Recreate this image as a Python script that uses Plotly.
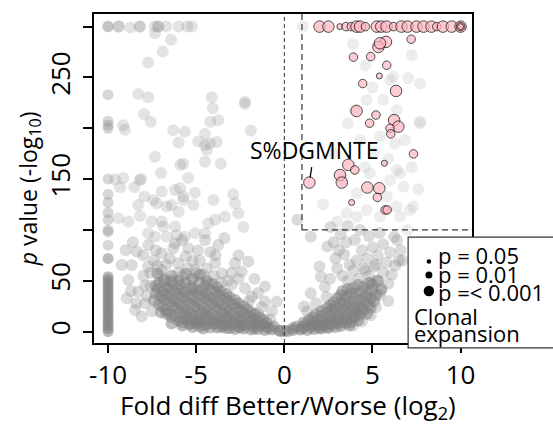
import plotly.graph_objects as go

# ---------------- data ----------------
# dense cloud, left of zero (fold diff, -log10 p)
left_cloud_x = [-0.2, 0.0, -0.3, -0.7, -1.1, -1.5, -1.9, -2.3, -2.8, -3.3, -3.8, -4.6, -5.8, -6.4,
                -0.6, -1.0, -1.4, -1.8, -2.2, -2.6, -3.0, -3.5, -4.0, -4.5, -5.0, -5.4,
                -1.0, -1.5, -2.0, -2.5, -3.0, -3.5, -4.0, -4.5, -5.0, -5.5, -6.0,
                -1.4, -2.0, -2.6, -3.2, -3.8, -4.4, -5.0, -5.6, -6.2, -6.7,
                -1.9, -2.5, -3.1, -3.7, -4.3, -4.9, -5.5, -6.1, -6.7,
                -2.3, -2.9, -3.5, -4.1, -4.7, -5.3, -5.9, -6.5, -7.1,
                -2.8, -3.4, -4.0, -4.6, -5.2, -5.8, -6.4, -7.0,
                -3.3, -3.9, -4.5, -5.1, -5.7, -6.3, -6.9,
                -3.8, -4.5, -5.2, -5.9, -6.6, -7.3,
                -4.4, -5.2, -6.0, -6.8,
                -0.9, -1.7, -2.5, -3.1, -3.6, -4.2, -4.8, -5.2,
                -1.2, -1.6, -2.4, -2.8, -3.3, -3.8, -4.3, -4.8, -5.3, -5.8,
                -1.2, -1.8, -2.3, -2.8, -3.3, -3.8, -4.3, -4.8, -5.3, -5.8, -6.4,
                -1.7, -2.3, -2.9, -3.5, -4.1, -4.7, -5.3, -5.9, -6.5, -7.0,
                -2.1, -2.7, -3.3, -3.9, -4.5, -5.1, -5.7, -6.3, -6.9,
                -2.6, -3.2, -3.8, -4.4, -5.0, -5.6, -6.2, -6.8, -7.4,
                -3.1, -3.7, -4.3, -4.9, -5.5, -6.1, -6.7, -7.3,
                -3.6, -4.2, -4.8, -5.4, -6.0, -6.6, -7.2,
                -4.1, -4.8, -5.6, -6.4, -7.1,
                -4.8, -5.6, -6.4, -7.2]
left_cloud_y = [0.5, 0.5, 1, 2, 1.5, 2.5, 2, 3, 2.5, 3.5, 4, 3, 6, 8,
                5, 4.5, 6, 5.5, 6.5, 5, 7, 6, 7.5, 6.5, 8, 7,
                9, 10, 9.5, 11, 10, 12, 10.5, 12, 11, 12.5, 11,
                14, 15, 14.5, 16, 15, 17, 15.5, 17, 16, 17.5,
                19, 21, 20, 22, 20.5, 22, 21, 23, 21.5,
                25, 27, 26, 28, 26.5, 28, 27, 29, 27,
                31, 33, 32, 34, 32.5, 34, 33, 35,
                37, 39, 38, 40, 38.5, 40, 39,
                44, 45, 43, 46, 44, 45,
                50, 52, 50, 51,
                3.5, 3, 4, 3.5, 4.5, 4, 5, 4.5,
                7.5, 8, 7, 8.5, 7.5, 9, 8, 9.5, 8.5, 9,
                12, 12.5, 13, 12, 13.5, 12.5, 14, 13, 14.5, 13.5, 14,
                17, 18, 17.5, 18.5, 17.5, 19, 18, 19.5, 18.5, 19,
                22, 23.5, 23, 24.5, 23.5, 25, 24, 25.5, 24.5,
                28, 29.5, 29, 30.5, 29.5, 31, 30, 31.5, 30.5,
                34, 35.5, 35, 36.5, 35.5, 37, 36, 37.5,
                40, 41.5, 41, 42.5, 41.5, 43, 42,
                47, 48.5, 48, 49, 48,
                56, 57, 55, 57]

# dense cloud, right of zero
right_cloud_x = [0.2, 0.5, 0.9, 1.3, 1.7, 2.1, 2.5, 2.9,
                 0.7, 1.1, 1.5, 1.9, 2.3, 2.7, 3.1, 3.5,
                 1.1, 1.6, 2.1, 2.6, 3.1, 3.6, 4.0,
                 1.6, 2.1, 2.6, 3.1, 3.6, 4.1, 4.5,
                 2.1, 2.7, 3.2, 3.8, 4.3, 4.8,
                 2.6, 3.2, 3.7, 4.3, 4.9,
                 3.0, 3.5, 4.1, 4.7,
                 3.3, 3.9, 4.5, 5.0,
                 0.5, 1.0, 1.5, 2.0, 2.4, 3.2, 3.7,
                 1.2, 1.7, 2.1, 2.5, 2.9, 3.3, 3.8, 4.2,
                 1.4, 1.9, 2.4, 2.9, 3.4, 3.9, 4.3, 4.7,
                 1.8, 2.4, 2.9, 3.4, 3.9, 4.4, 4.9,
                 2.4, 2.9, 3.5, 4.0, 4.6, 5.1,
                 2.8, 3.4, 4.0, 4.6, 5.2,
                 3.2, 3.8, 4.4, 5.0, 5.5,
                 3.6, 4.2, 4.8, 5.3]
right_cloud_y = [0.5, 1.5, 2, 1.5, 2.5, 3, 3.5, 4.5,
                 5, 4.5, 6, 5.5, 7, 6.5, 8, 8.5,
                 9, 10, 9.5, 11, 12, 12.5, 14,
                 14, 15.5, 15, 17, 17.5, 19, 21,
                 20, 22, 21.5, 24, 25, 27,
                 26, 28, 29, 31, 33,
                 33, 35, 37, 38,
                 40, 43, 44, 46,
                 3.5, 3, 4, 3.5, 4.5, 5.5, 6,
                 7, 7.5, 6.5, 8, 9, 10, 9.5, 11,
                 11.5, 12, 12.5, 13.5, 14.5, 15.5, 16.5, 17.5,
                 17, 18.5, 19.5, 20.5, 21, 22.5, 23.5,
                 23, 25, 26, 27, 28.5, 30,
                 29, 31, 32.5, 34, 36,
                 36, 38, 39.5, 41, 42,
                 42, 46, 48, 50]

# medium-density points around the clouds
mid_x = [-8.38, -8.66, -9.23, -8.85, -8.94, -8.29, -7.72, -6.96, -6.2, -5.45, -4.5, -3.75, -3.93,
         -2.8, -2.42, -2.04, -2.99, -2.23, -1.1, -1.85, -1.1, -0.43, -7.72, -6.96, -6.02, -5.07,
         -6.39, -5.26, -4.31, -3.55, -7.9, -8.47, -8.1, -7.4, -6.5, -5.6, -4.8, -4.2, -7.0, -6.0,
         -5.5, -4.6, -3.2, -7.6, -8.0, -7.8, -7.5, -1.5, -2.6, -0.8, -1.3,
         -8.6, -8.0, -7.3, -6.7, -6.3, -5.8, -5.2, -4.9, -4.4, -3.9, -3.4, -3.0, -2.6, -1.7, -2.0,
         -1.5, -0.7, -9.0, -8.7, -8.4, -7.9, -7.6, -7.2, -6.8, -6.2, -5.8, -5.0, -4.0, -3.6,
         3.6, 4.2, 4.8, 5.3, 3.9, 4.5, 5.1, 5.6, 4.1, 4.7, 5.3, 5.8, 4.4, 5.0, 5.6, 3.4, 3.0,
         2.6, 2.3, 5.5, 5.9, 6.1, 6.3, 6.0, 4.0, 4.8, 5.4, 3.5, 2.9, 6.4, 6.6, 3.2, 4.3, 2.4,
         1.8, 1.3, 5.4, 5.9, 5.2, 4.9, 4.4, 3.9, 1.5, 2.44, 6.23, 2.07, 1.5, 1.12, 0.74, 2.63, 6.7,
         3.1, 3.7, 4.6, 5.2, 2.8, 3.3, 4.9, 6.5, 2.0, 3.6]
mid_y = [78.7, 65.6, 65.6, 50.8, 32.8, 39.3, 85.3, 77, 87, 82, 90, 85.3, 67.3,
         67.3, 59, 68.9, 46, 42.7, 44.3, 34.4, 29.5, 29.5, 64, 60.7, 67.3, 60.7,
         50.8, 50.8, 47.6, 57.4, 28, 21.3, 14.8, 70, 72, 74, 70, 78, 55, 58,
         62, 56, 50, 45, 55, 35, 20, 38, 52, 12, 24,
         88, 75, 80, 66, 82, 90, 70, 80, 62, 75, 92, 58, 75, 52, 30,
         18, 20, 80, 40, 28, 45, 58, 65, 48, 45, 55, 58, 55, 48,
         50, 52, 55, 50, 60, 62, 64, 58, 70, 72, 75, 68, 80, 83, 86, 76, 62,
         52, 44, 40, 47, 56, 65, 78, 90, 94, 97, 88, 72, 90, 80, 96, 100, 34,
         28, 20, 36, 30, 24, 16, 10, 6, 93.4, 83.6, 93.4, 54, 37.8, 24.6, 110, 103, 70,
         80, 66, 60, 66, 88, 55, 48, 70, 64, 104]

# sparse points, upper left half
sparse_x = [-7.95, -7.43, -7.24, -8.29, -6.96, -6.67, -6.39, -5.73, -5.73, -5.16, -6.0, -2.9, -4.03,
            -2.8, -2.61, -3.37, -2.33, -3.93, -4.31, -4.5, -5.07, -6.2, -6.96, -7.53, -8.19, -8.85,
            -9.42, -7.72, -7.34, -6.67, -5.64, -6.87, -6.1, -7.34, -5.9, -5.73, -4.5, -3.6, -7.0,
            -9.14, -8.2, -5.45, -9.6, -9.32, -8.51, -8.13, -5.07, -5.92, -6.2, -6.0, -4.88, -4.5,
            -4.22, -3.84, -4.4, -6.3, -5.64, -4.5, -3.75, -4.2, -1.9, -9.14, -9.04, -7.96, -7.58,
            -4.12, -4.06, -2.23, -2.23, -8.29, -7.72, -7.72, -6.9, -6.43, -7.34,
            -10.0, -9.4, -9.4, -8.75, -8.2, -8.2, -7.35, -7.15, -7.15, -6.7, -6.0, -5.5, -5.25]
sparse_y = [132.8, 129.5, 126.3, 124.6, 137.7, 123, 124.6, 132.8, 129.5, 124.6, 118, 135, 129.5,
            126.3, 116.5, 113, 103, 110, 106.6, 96.8, 96.8, 103.3, 108.2, 108.2, 113.8, 108.2,
            111.5, 96.8, 93.4, 93.4, 93.4, 103.3, 95, 172, 164, 165, 167, 165, 156,
            151, 149, 151, 149.5, 142, 142, 150, 136.7, 141, 139.4, 185.9, 187, 183.6,
            185, 186.5, 178.7, 198, 196.7, 194.5, 208, 206.5, 197.7, 203, 198.5, 214, 206.5,
            230.5, 219.7, 226, 224, 233.8, 230.5, 264.6, 275.4, 287, 293.5,
            300, 300, 300, 299, 300, 300, 300, 300, 300, 300, 300, 300, 300]

# faint points inside the upper right (Better) region
faint_x = [1.06, 7.23, 7.04, 6.0, 4.68, 5.62, 4.0, 6.38, 7.7, 4.3, 5.43, 6.28, 7.23, 4.58, 4.86, 6.0,
           6.38, 4.11, 5.81, 6.38, 4.68, 3.54, 4.11, 7.32, 5.43, 6.19, 7.7, 7.7, 6.85, 6.57, 6.76,
           7.13, 6.57, 7.0, 3.0, 2.2, 3.3, 2.8, 3.6, 5.0, 4.6, 3.9, 5.1, 5.9, 7.6]
faint_y = [300, 272, 249.5, 247.6, 228, 228, 218, 218, 206.5, 188.6, 191.8, 185, 162, 162, 155.8, 149,
           159, 136, 132.8, 123, 119.7, 116.5, 113, 123, 113, 250.8, 244, 205, 188.5, 155.8, 142.6,
           119.7, 113, 100, 108, 125, 150, 175, 205, 240, 262, 283, 176, 170, 140]

# column of points at the -10 floor
col_dense_y = [0, 3, 6, 9, 12, 15, 18, 21, 24, 27, 30, 33, 36, 39, 42, 45, 48, 51, 54]
col_sparse_y = [72, 72, 85, 98, 100, 110, 117, 127, 135, 150, 200, 203, 207, 233, 300]

# clonal expansion (pink) points and p-value level (1: p=0.05, 2: p=0.01, 3: p=<0.001)
clonal_x = [2.0, 2.5, 3.15, 3.5, 3.8, 4.1, 4.3, 4.6, 5.25, 5.5, 5.8, 6.2, 6.65, 7.0, 7.5, 7.9,
            8.35, 8.65, 9.0, 9.5, 10.0, 10.0, 10.0,
            7.2, 5.77, 5.34, 5.43, 3.92, 4.9, 5.81, 5.39, 4.45, 6.34, 4.1, 5.2, 4.84, 6.23, 6.47,
            6.0, 6.04, 7.33, 5.68, 3.63, 4.0, 3.16, 3.26, 1.42, 4.71, 5.39, 5.28, 3.82, 5.72, 5.84]
clonal_y = [300, 300, 300, 300, 300, 300, 300, 300, 300, 300, 300, 300, 300, 300, 300, 300,
            300, 300, 300, 300, 300, 300, 300,
            287.6, 285, 280, 283.6, 270, 270.5, 262, 251.5, 244, 236.7, 217, 213, 205, 208, 201.6,
            200, 194.5, 174.8, 165.6, 164, 159, 154, 146.6, 146.6, 141.7, 141, 132, 127, 119.7, 119.7]
clonal_level = [3, 3, 1, 2, 2, 3, 3, 2, 3, 3, 3, 2, 3, 3, 3, 3,
                3, 2, 3, 3, 3, 2, 1,
                2, 3, 3, 3, 2, 2, 2, 1, 2, 3, 3, 2, 2, 3, 3,
                2, 2, 2, 1, 3, 2, 3, 3, 3, 3, 3, 2, 1, 2, 2]

label_text = "S%DGMNTE"
label_x, label_y = 1.42, 146.6

legend_labels = ["p = 0.05", "p = 0.01", "p =< 0.001"]
legend_levels = [1, 2, 3]

x_ticks = [-10, -5, 0, 5, 10]
x_tick_text = ["-10", "-5", "0", "5", "10"]
y_ticks = [0, 50, 150, 250]

x_title = "Fold diff Better/Worse (log<sub>2</sub>)"
y_title = "<i>p</i> value (-log<sub>10</sub>)"

cut_x, cut_y = 1, 100

# ---------------- styling ----------------
FONT = "Open Sans"
level_size = {1: 6, 2: 8.5, 3: 11.5}
legend_px = {1: 4.5, 2: 7, 3: 10.5}
Y0, Y1 = -11.2, 312.4

fig = go.Figure()

def grey(x, y, alpha, size, col=130):
    fig.add_trace(go.Scatter(x=x, y=y, mode="markers", hoverinfo="skip",
                             marker=dict(size=size, color=f"rgba({col},{col},{col},{alpha})",
                                         line=dict(width=0))))

grey(faint_x, faint_y, 0.17, 12, 150)
grey(sparse_x, sparse_y, 0.24, 12, 140)
grey([-10] * len(col_sparse_y), col_sparse_y, 0.32, 11, 130)
grey(mid_x, mid_y, 0.3, 12, 135)
grey(left_cloud_x, left_cloud_y, 0.5, 12, 128)
grey(right_cloud_x, right_cloud_y, 0.5, 12, 128)
grey([-10] * len(col_dense_y), col_dense_y, 0.55, 11, 128)

fig.add_trace(go.Scatter(
    x=clonal_x, y=clonal_y, mode="markers", hoverinfo="skip",
    marker=dict(size=[level_size[l] for l in clonal_level], color="#FFB6C1",
                line=dict(color="black", width=1))))

# reference lines
shapes = [
    dict(type="line", xref="x", yref="paper", x0=0, x1=0, y0=0, y1=1,
         line=dict(color="#333", width=1, dash="4px,3px")),
    dict(type="line", xref="x", yref="paper", x0=cut_x, x1=cut_x, y0=(cut_y - Y0) / (Y1 - Y0), y1=1,
         line=dict(color="#333", width=1.2, dash="6px,4px")),
    dict(type="line", xref="x", yref="y", x0=cut_x, x1=10.65, y0=cut_y, y1=cut_y,
         line=dict(color="#333", width=1.2, dash="6px,4px")),
    # legend box
    dict(type="rect", xref="paper", yref="paper", x0=0.831, x1=1.35, y0=-0.015, y1=0.322,
         fillcolor="white", line=dict(color="#333", width=1.2), layer="above"),
]
legend_y_paper = [0.248, 0.207, 0.158]
for lvl, yp in zip(legend_levels, legend_y_paper):
    r = legend_px[lvl] / 2
    shapes.append(dict(type="circle", xref="paper", yref="paper", xsizemode="pixel",
                       ysizemode="pixel", xanchor=0.886, yanchor=yp,
                       x0=-r, x1=r, y0=-r, y1=r, fillcolor="black",
                       line=dict(color="black", width=0), layer="above"))

annotations = []
for txt, yp in zip(legend_labels, [0.267, 0.211, 0.155]):
    annotations.append(dict(text=txt, xref="paper", yref="paper", x=0.905, y=yp,
                            xanchor="left", yanchor="middle", showarrow=False,
                            font=dict(family=FONT, size=22, color="black")))
annotations.append(dict(text="Clonal", xref="paper", yref="paper", x=0.84, y=0.082,
                        xanchor="left", yanchor="middle", showarrow=False,
                        font=dict(family=FONT, size=22, color="black")))
annotations.append(dict(text="expansion", xref="paper", yref="paper", x=0.84, y=0.030,
                        xanchor="left", yanchor="middle", showarrow=False,
                        font=dict(family=FONT, size=22, color="black")))
annotations.append(dict(text=label_text, x=label_x, y=label_y, xref="x", yref="y",
                        showarrow=True, arrowhead=0, arrowwidth=1.3, arrowcolor="black",
                        ax=5, ay=-33, standoff=5,
                        font=dict(family=FONT, size=23, color="black")))
# axis titles
annotations.append(dict(text=x_title, xref="paper", yref="paper", x=0.513, y=-0.19,
                        xanchor="center", yanchor="middle", showarrow=False,
                        font=dict(family=FONT, size=26, color="black")))
annotations.append(dict(text=y_title, xref="paper", yref="paper", x=-0.172, y=0.47,
                        xanchor="center", yanchor="middle", showarrow=False, textangle=-90,
                        font=dict(family=FONT, size=23, color="black")))

fig.update_layout(
    width=553, height=425,
    margin=dict(l=94, r=81, t=14, b=82),
    paper_bgcolor="white", plot_bgcolor="white",
    showlegend=False,
    shapes=shapes, annotations=annotations,
    font=dict(family=FONT, color="black"),
    xaxis=dict(range=[-10.8, 10.65], tickvals=x_ticks, ticktext=x_tick_text, ticks="outside",
               ticklen=8, tickwidth=1.5, tickcolor="black", showgrid=False, zeroline=False,
               showline=True, linewidth=2, linecolor="black", mirror=True, automargin=False,
               tickfont=dict(family=FONT, size=26)),
    yaxis=dict(range=[Y0, Y1], tickvals=y_ticks, ticks="outside",
               ticklen=9, tickwidth=1.5, tickcolor="black", showgrid=False, zeroline=False,
               showline=True, linewidth=2, linecolor="black", mirror=True, tickangle=-90,
               automargin=False, ticklabelstandoff=3,
               minor=dict(tick0=0, dtick=50, ticks="outside", ticklen=9, tickwidth=1.5,
                          tickcolor="black", showgrid=False),
               tickfont=dict(family=FONT, size=26)),
)

fig.write_html("out.html", config={"displayModeBar": False},
               post_script="document.body.style.margin='0';")
